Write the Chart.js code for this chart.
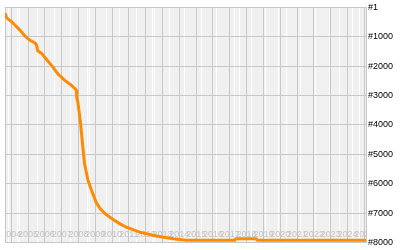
<!DOCTYPE html>
<html>
<head>
<meta charset="utf-8">
<script src="https://cdn.jsdelivr.net/npm/chart.js@4/dist/chart.umd.min.js"></script>
<style>
    html, body { margin: 0; padding: 0; background: #ffffff; }
    #rankChart { display: block; }
</style>
</head>
<body>
<canvas id="rankChart" width="400" height="250"></canvas>
<script>
// Rank history

var yearLabels = ['2004', '2005', '2006', '2007', '2008', '2009', '2010', '2011', '2012', '2013', '2014',
                  '2015', '2016', '2017', '2018', '2019', '2020', '2021', '2022', '2023', '2024', '2025'];

// x position of each sample, in years after the first label
var sampleX = [-0.37, -0.26, 0, 0.2, 0.49, 0.79, 1.09, 1.39, 1.49, 1.58, 1.79, 2.08, 2.48, 2.77, 3.17, 3.57,
               3.87, 3.9, 3.96, 4.11, 4.26, 4.36, 4.56, 4.76, 5.06, 5.3, 5.55, 5.85, 6.15, 6.5, 6.85, 7.64, 8.63,
               9.62, 10.42, 11.21, 13.29, 13.35, 14.55, 14.64, 21.1];
var sampleRank = [200, 367, 477, 590, 757, 957, 1110, 1200, 1257, 1477, 1557, 1757, 2033, 2257, 2477, 2643,
                  2810, 3090, 3200, 3867, 4757, 5310, 5867, 6200, 6643, 6850, 7000, 7130, 7250, 7370, 7477, 7643, 7777,
                  7867, 7923, 7923, 7923, 7867, 7867, 7923, 7923];

var rankTicks = [1, 1000, 2000, 3000, 4000, 5000, 6000, 7000, 8000];

// light in-between lines of the grid
var minorX = [-0.16, 0.4, 0.52, 1.58, 2.58, 3.53, 4.54, 4.66, 5.65, 6.45, 7.44, 8.38, 8.53, 9.42, 10.29,
              11.31, 12.22, 13.29, 13.59, 14.29, 15.1, 15.9, 16.4, 17.2, 18.1, 18.9, 19.5, 20.3, 20.7];

var gridGray = '#c8c8c8';

var plotBackground = {
    id: 'plotBackground',
    beforeDraw: function(chart) {
        var a = chart.chartArea, ctx = chart.ctx;
        ctx.save();
        ctx.fillStyle = '#f0f0f0';
        ctx.fillRect(a.left, a.top, a.right - a.left, a.bottom - a.top);
        ctx.restore();
    },
    beforeDatasetsDraw: function(chart) {
        var a = chart.chartArea, ctx = chart.ctx, xs = chart.scales.x;
        ctx.save();
        ctx.beginPath();
        ctx.rect(a.left, a.top, a.right - a.left, a.bottom - a.top);
        ctx.clip();
        // left border
        ctx.strokeStyle = gridGray;
        ctx.lineWidth = 1;
        ctx.beginPath();
        ctx.moveTo(a.left + 0.5, a.top);
        ctx.lineTo(a.left + 0.5, a.bottom);
        ctx.stroke();
        // year labels inside the plot
        ctx.font = "9px 'Liberation Sans'";
        ctx.fillStyle = '#c4c4c4';
        ctx.textAlign = 'center';
        ctx.textBaseline = 'middle';
        yearLabels.forEach(function(lbl, i) {
            ctx.fillText(lbl, xs.getPixelForValue(i), a.bottom - 8.5);
        });
        ctx.restore();
    }
};

var points = sampleX.map(function(x, i) { return { x: x, y: sampleRank[i] }; });

new Chart(document.getElementById('rankChart'), {
    type: 'line',
    data: {
        datasets: [{
            data: points,
            borderColor: '#ff8c00',
            borderWidth: 3,
            pointRadius: 0,
            tension: 0,
            fill: false
        }]
    },
    options: {
        responsive: false,
        devicePixelRatio: 1,
        animation: false,
        layout: { padding: { left: 5, top: 4, right: 0, bottom: 6 } },
        plugins: { legend: { display: false }, tooltip: { enabled: false } },
        scales: {
            x: {
                type: 'linear',
                min: -0.37,
                max: 21.1,
                afterBuildTicks: function(s) {
                    var t = yearLabels.map(function(_, i) { return { value: i, big: true }; });
                    minorX.forEach(function(v) { t.push({ value: v, big: false }); });
                    t.sort(function(a, b) { return a.value - b.value; });
                    s.ticks = t;
                },
                afterFit: function(s) { s.height = 0; },
                ticks: { display: false, autoSkip: false },
                border: { display: false },
                grid: {
                    drawTicks: false,
                    lineWidth: 1,
                    color: function(c) { return c.tick && c.tick.big ? gridGray : '#ffffff'; }
                }
            },
            y: {
                type: 'linear',
                position: 'right',
                reverse: true,
                min: 1,
                max: 8000,
                afterBuildTicks: function(s) {
                    s.ticks = rankTicks.map(function(v) { return { value: v }; });
                },
                afterFit: function(s) { s.width = 34; },
                ticks: {
                    autoSkip: false,
                    padding: 2,
                    color: '#000000',
                    font: { family: 'Liberation Sans', size: 9 },
                    callback: function(v) { return '#' + v; }
                },
                border: { display: true, color: gridGray },
                grid: { drawTicks: false, color: gridGray, lineWidth: 1 }
            }
        }
    },
    plugins: [plotBackground]
});
</script>
</body>
</html>
